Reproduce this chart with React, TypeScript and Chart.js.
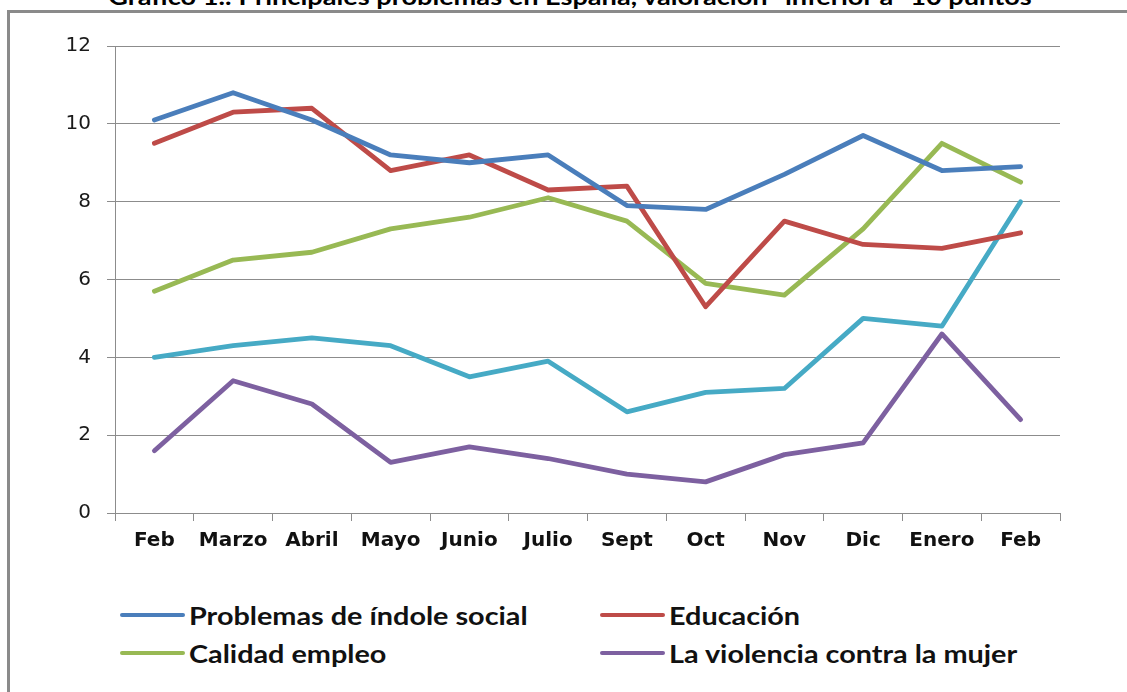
import React, { useEffect, useRef } from "react";
import { Chart, registerables } from "chart.js";

Chart.register(...registerables);

const titleText = "Gráfico 1.: Principales problemas en España, valoración \"inferior a\" 10 puntos";
const months = ["Feb", "Marzo", "Abril", "Mayo", "Junio", "Julio", "Sept", "Oct", "Nov", "Dic", "Enero", "Feb"];
const problemasSociales = [10.1, 10.8, 10.1, 9.2, 9.0, 9.2, 7.9, 7.8, 8.7, 9.7, 8.8, 8.9];
const educacion = [9.5, 10.3, 10.4, 8.8, 9.2, 8.3, 8.4, 5.3, 7.5, 6.9, 6.8, 7.2];
const calidadEmpleo = [5.7, 6.5, 6.7, 7.3, 7.6, 8.1, 7.5, 5.9, 5.6, 7.3, 9.5, 8.5];
const otraSerie = [4.0, 4.3, 4.5, 4.3, 3.5, 3.9, 2.6, 3.1, 3.2, 5.0, 4.8, 8.0];
const violenciaMujer = [1.6, 3.4, 2.8, 1.3, 1.7, 1.4, 1.0, 0.8, 1.5, 1.8, 4.6, 2.4];
const yTicks = [0, 2, 4, 6, 8, 10, 12];

const series = [
  { label: "Problemas de índole social", data: problemasSociales, color: "#4A7EBB", legend: true },
  { label: "Educación", data: educacion, color: "#BE4B48", legend: true },
  { label: "Calidad empleo", data: calidadEmpleo, color: "#98B954", legend: true },
  { label: "Otros", data: otraSerie, color: "#46AAC5", legend: false },
  { label: "La violencia contra la mujer", data: violenciaMujer, color: "#7D60A0", legend: true },
];

const gridColor = "#8c8c8c";
const axisFont = { family: "'DejaVu Sans', Verdana, sans-serif", size: 20, weight: "bold" as const };
const yFont = { family: "'DejaVu Sans', Verdana, sans-serif", size: 20 };
const legendFont = "Lato, 'DejaVu Sans Condensed', sans-serif";

export default function App() {
  const canvasRef = useRef<HTMLCanvasElement | null>(null);

  useEffect(() => {
    if (!canvasRef.current) return;
    const chart = new Chart(canvasRef.current, {
      type: "line",
      data: {
        labels: months,
        datasets: series.map((s) => ({
          label: s.label,
          data: s.data,
          borderColor: s.color,
          backgroundColor: s.color,
          borderWidth: 4.8,
          pointRadius: 0,
          tension: 0,
          fill: false,
          borderCapStyle: "round" as const,
          borderJoinStyle: "round" as const,
        })),
      },
      options: {
        animation: false,
        responsive: false,
        maintainAspectRatio: false,
        layout: { padding: { left: 0, right: 67, top: 46, bottom: 0 } },
        plugins: {
          legend: { display: false },
          tooltip: { enabled: false },
          title: { display: false },
        },
        scales: {
          x: {
            offset: true,
            grid: {
              offset: true,
              drawOnChartArea: false,
              drawTicks: true,
              tickLength: 8,
              color: gridColor,
              lineWidth: 1,
            },
            border: { color: gridColor, width: 1 },
            ticks: { font: axisFont, color: "#111", padding: 8, maxRotation: 0, autoSkip: false },
            afterFit: (s: any) => {
              s.height = 60;
            },
          },
          y: {
            min: 0,
            max: 12,
            afterBuildTicks: (s: any) => {
              s.ticks = yTicks.map((v) => ({ value: v }));
            },
            grid: { color: gridColor, lineWidth: 1, tickLength: 8 },
            border: { color: gridColor, width: 1 },
            ticks: { font: yFont, color: "#1a1a1a", padding: 16 },
            afterFit: (s: any) => {
              s.width = 115;
            },
          },
        },
      },
    });
    return () => chart.destroy();
  }, []);

  const legendItems = series.filter((s) => s.legend);
  const colX = [120, 600];
  const rowY = [616, 654];

  return (
    <div
      style={{
        position: "fixed",
        left: 0,
        top: 0,
        width: 1127,
        height: 692,
        overflow: "hidden",
        background: "#fff",
      }}
    >
      <div
        style={{
          position: "absolute",
          left: 570,
          top: -15,
          transform: "translateX(-50%) scaleX(1.18)",
          fontFamily: legendFont,
          fontWeight: "bold",
          fontSize: 23,
          lineHeight: "23px",
          color: "#000",
          whiteSpace: "nowrap",
        }}
      >
        {titleText}
      </div>
      <div
        style={{
          position: "absolute",
          left: 7,
          top: 10,
          width: 1200,
          height: 800,
          borderLeft: "3px solid #8a8a8a",
          borderTop: "3px solid #8a8a8a",
        }}
      />
      <canvas
        ref={canvasRef}
        width={1127}
        height={573}
        style={{ position: "absolute", left: 0, top: 0, width: 1127, height: 573 }}
      />
      {legendItems.map((s, i) => {
        const x = colX[i % 2];
        const y = rowY[Math.floor(i / 2)];
        return (
          <div key={s.label} style={{ position: "absolute", left: x, top: y - 16, height: 30, display: "flex", alignItems: "center" }}>
            <div style={{ width: 65, height: 4.8, borderRadius: 3, background: s.color, marginRight: 4 }} />
            <span
              style={{
                display: "inline-block",
                fontFamily: legendFont,
                fontWeight: "bold",
                fontSize: 24,
                color: "#111",
                whiteSpace: "nowrap",
                transform: "scaleX(1.2)",
                transformOrigin: "left center",
              }}
            >
              {s.label}
            </span>
          </div>
        );
      })}
    </div>
  );
}
